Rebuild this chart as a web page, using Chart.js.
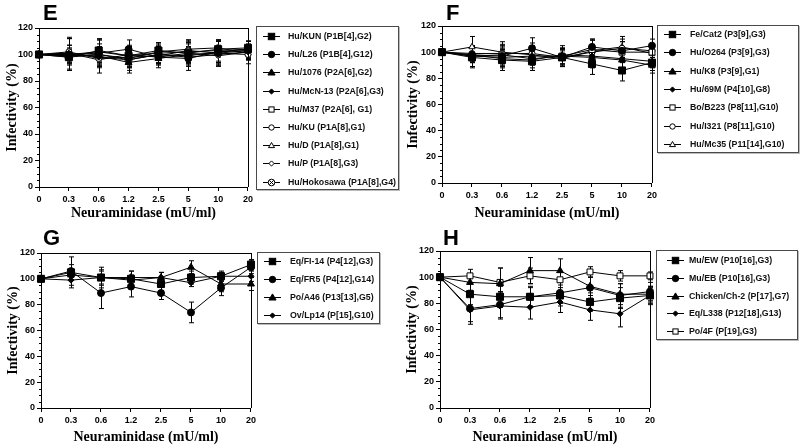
<!DOCTYPE html>
<html><head><meta charset="utf-8">
<script src="https://cdn.jsdelivr.net/npm/chart.js@4.4.0/dist/chart.umd.min.js"></script>
<style>
body{margin:0;width:800px;height:448px;background:#fff;position:relative;overflow:hidden;font-family:'Liberation Sans',Arial,sans-serif;}
canvas{position:absolute;}
.lbl{position:absolute;font:bold 22px 'Liberation Sans',Arial,sans-serif;line-height:1;color:#000;}
.leg{position:absolute;border:1.5px solid #4a4a4a;background:#fff;box-sizing:border-box;box-shadow:1px 1px 0 #bbb;}
.row{position:absolute;left:0;height:14px;white-space:nowrap;font:bold 8.8px 'Liberation Sans',Arial,sans-serif;color:#111;}
.row svg{position:absolute;top:0;}
.row span{position:absolute;top:1px;}
</style></head><body>
<script>
// ---------- shared axis ----------
const xLabels = ['0','0.3','0.6','1.2','2.5','5','10','20'];
const xTitle = 'Neuraminidase (mU/ml)';
const yTitle = 'Infectivity (%)';

// ---------- Panel E ----------
const eNames = ['Hu/KUN (P1B[4],G2)','Hu/L26 (P1B[4],G12)','Hu/1076 (P2A[6],G2)','Hu/McN-13 (P2A[6],G3)','Hu/M37 (P2A[6], G1)','Hu/KU (P1A[8],G1)','Hu/D (P1A[8],G1)','Hu/P (P1A[8],G3)','Hu/Hokosawa (P1A[8],G4)'];
const eMarks = ['sq','ci','tr','di','sqo','cio','tro','dio','cx'];
const eKUN      = [100, 98, 103, 99, 103, 101, 104, 105];
const eL26      = [100, 100, 101, 104, 98, 97, 102, 104];
const e1076     = [100, 99, 99, 94, 97, 100, 101, 103];
const eMcN13    = [100, 101, 98, 96, 100, 98, 100, 102];
const eM37      = [100, 100, 102, 99, 101, 102, 103, 104];
const eKU       = [100, 102, 97, 98, 99, 103, 101, 100];
const eD        = [100, 99, 100, 97, 102, 104, 105, 101];
const eP        = [100, 101, 96, 100, 98, 101, 99, 102];
const eHokosawa = [100, 98, 100, 96, 100, 99, 102, 103];
const eErrA = [0, 6, 8, 6, 6, 7, 6, 5];
const eErrB = [0, 12, 10, 7, 5, 9, 8, 6];
const eErrC = [0, 5, 6, 8, 7, 6, 9, 7];

// ---------- Panel F ----------
const fNames = ['Fe/Cat2 (P3[9],G3)','Hu/O264 (P3[9],G3)','Hu/K8 (P3[9],G1)','Hu/69M (P4[10],G8)','Bo/B223 (P8[11],G10)','Hu/I321 (P8[11],G10)','Hu/Mc35 (P11[14],G10)'];
const fMarks = ['sq','ci','tr','di','sqo','cio','tro'];
const fCat2  = [100, 96, 94, 93, 96, 91, 86, 92];
const fO264  = [100, 98, 97, 103, 96, 104, 101, 105];
const fK8    = [100, 97, 96, 97, 97, 96, 94, 90];
const f69M   = [100, 98, 95, 94, 98, 97, 95, 93];
const fB223  = [100, 97, 98, 95, 97, 102, 100, 100];
const fI321  = [100, 99, 99, 99, 96, 100, 103, 101];
const fMc35  = [100, 104, 100, 98, 95, 101, 104, 99];
const fErrA = [0, 8, 8, 7, 6, 8, 8, 6];
const fErrB = [0, 6, 6, 8, 7, 6, 7, 5];

// ---------- Panel G ----------
const gNames = ['Eq/FI-14 (P4[12],G3)','Eq/FR5 (P4[12],G14)','Po/A46 (P13[13],G5)','Ov/Lp14 (P[15],G10)'];
const gMarks = ['sq','ci','tr','di'];
const gFI14 = [100, 105, 101, 100, 96, 101, 102, 111];
const gFR5  = [100, 106, 89, 94, 89, 74, 93, 109];
const gA46  = [100, 103, 101, 101, 101, 109, 96, 96];
const gLp14 = [100, 99, 101, 99, 101, 97, 102, 102];
const gErrFI14 = [0, 12, 8, 6, 5, 5, 3, 4];
const gErrFR5  = [0, 5, 12, 8, 5, 8, 6, 5];
const gErrA46  = [0, 4, 6, 5, 4, 5, 6, 5];
const gErrLp14 = [0, 4, 5, 4, 4, 3, 4, 4];

// ---------- Panel H ----------
const hNames = ['Mu/EW (P10[16],G3)','Mu/EB (P10[16],G3)','Chicken/Ch-2 (P[17],G7)','Eq/L338 (P12[18],G13)','Po/4F (P[19],G3)'];
const hMarks = ['sq','ci','tr','di','sqo'];
const hEW   = [100, 87, 85, 85, 86, 81, 84, 86];
const hEB   = [100, 76, 79, 85, 88, 92, 86, 89];
const hCh2  = [100, 96, 95, 105, 105, 93, 87, 87];
const hL338 = [100, 75, 78, 77, 81, 75, 72, 86];
const hPo4F = [100, 101, 96, 101, 98, 104, 101, 101];
const hErrEW   = [0, 8, 8, 7, 8, 7, 8, 6];
const hErrEB   = [0, 10, 10, 8, 8, 8, 9, 7];
const hErrCh2  = [0, 6, 12, 10, 9, 7, 8, 6];
const hErrL338 = [0, 11, 10, 9, 8, 8, 10, 7];
const hErrPo4F = [0, 5, 11, 6, 6, 4, 4, 3];

// ---------- marker helpers ----------
function crossCircleImage(){
  const c=document.createElement('canvas'); c.width=9; c.height=9;
  const g=c.getContext('2d'); g.strokeStyle='#000'; g.lineWidth=1; g.fillStyle='#fff';
  g.beginPath(); g.arc(4.5,4.5,3.6,0,Math.PI*2); g.fill(); g.stroke();
  g.beginPath(); g.moveTo(2.2,2.2); g.lineTo(6.8,6.8); g.moveTo(6.8,2.2); g.lineTo(2.2,6.8); g.stroke();
  return c;
}
const cxImg = crossCircleImage();
function markStyle(m){
  const open = m.endsWith('o');
  const base = open ? m.slice(0,-1) : m;
  const fill = open ? '#fff' : '#000';
  const mapF = {sq:['rect',5],ci:['circle',3.5],tr:['triangle',4],di:['rectRot',3]};
  const mapO = {sq:['rect',4.2],ci:['circle',3],tr:['triangle',3.6],di:['rectRot',2.8]};
  if(m==='cx') return {pointStyle:cxImg,pointRadius:4.5,pointBackgroundColor:'#fff'};
  const mp = open ? mapO : mapF;
  return {pointStyle:mp[base][0],pointRadius:mp[base][1],pointBackgroundColor:fill};
}
function markSVG(m){
  const open=m.endsWith('o'); const b=open?m.slice(0,-1):m; const f=open?'#fff':'#000';
  let s='<line x1="0" y1="6.5" x2="17" y2="6.5" stroke="#000" stroke-width="1"/>';
  const cx=8.5, cy=6.5;
  if(m==='cx') s+='<circle cx="8.5" cy="6.5" r="3.3" fill="#fff" stroke="#000"/><path d="M6.3 4.3 L10.7 8.7 M10.7 4.3 L6.3 8.7" stroke="#000"/>';
  else if(b==='sq'){ const h=open?2.6:3.2; s+=`<rect x="${cx-h}" y="${cy-h}" width="${2*h}" height="${2*h}" fill="${f}" stroke="#000"/>`; }
  else if(b==='ci'){ s+=`<circle cx="${cx}" cy="${cy}" r="${open?2.7:3.2}" fill="${f}" stroke="#000"/>`; }
  else if(b==='tr'){ const r=open?3:3.6; s+=`<polygon points="${cx},${cy-r} ${cx+r},${cy+r*0.7} ${cx-r},${cy+r*0.7}" fill="${f}" stroke="#000"/>`; }
  else if(b==='di'){ const r=open?2.6:2.6; s+=`<polygon points="${cx},${cy-r} ${cx+r},${cy} ${cx},${cy+r} ${cx-r},${cy}" fill="${f}" stroke="#000"/>`; }
  return `<svg width="18" height="13">${s}</svg>`;
}

// ---------- plugins ----------
const errPlugin = {
  id:'errbars',
  beforeDatasetsDraw(chart){
    const ctx=chart.ctx, xs=chart.scales.x, ys=chart.scales.y;
    ctx.save(); ctx.strokeStyle='#000'; ctx.lineWidth=1;
    chart.data.datasets.forEach(ds=>{
      (ds.errs||[]).forEach((e,i)=>{
        if(!e) return;
        const px=Math.round(xs.getPixelForValue(i))+0.5, v=ds.data[i];
        const y1=ys.getPixelForValue(v+e), y2=ys.getPixelForValue(v-e);
        ctx.beginPath(); ctx.moveTo(px,y1); ctx.lineTo(px,y2);
        ctx.moveTo(px-2.5,y1); ctx.lineTo(px+2.5,y1);
        ctx.moveTo(px-2.5,y2); ctx.lineTo(px+2.5,y2);
        ctx.stroke();
      });
    });
    ctx.restore();
  }
};
const framePlugin = {
  id:'frame',
  afterDraw(chart){
    const a=chart.chartArea, ctx=chart.ctx, ys=chart.scales.y;
    ctx.save(); ctx.strokeStyle='#000'; ctx.lineWidth=1;
    ctx.beginPath();
    ctx.moveTo(a.left, Math.round(a.top)+0.5); ctx.lineTo(a.right+1, Math.round(a.top)+0.5);
    ctx.moveTo(Math.round(a.right)+0.5, a.top); ctx.lineTo(Math.round(a.right)+0.5, a.bottom);
    for(let v=0; v<=120; v+=5){
      if(v%20===0) continue;
      const py=Math.round(ys.getPixelForValue(v))+0.5;
      ctx.moveTo(a.left-2, py); ctx.lineTo(a.left, py);
    }
    ctx.stroke(); ctx.restore();
  }
};

// ---------- panel builder ----------
function buildPanel(p){
  const cv=document.createElement('canvas');
  cv.width=p.w; cv.height=p.h; cv.style.left=p.left+'px'; cv.style.top=p.top+'px';
  cv.style.width=p.w+'px'; cv.style.height=p.h+'px';
  document.body.appendChild(cv);
  const datasets=p.series.map((s,i)=>Object.assign({
    label:p.names[i], data:s, errs:p.errs[i],
    borderColor:'#000', borderWidth:1, pointBorderColor:'#000', pointBorderWidth:1,
    tension:0, fill:false
  }, markStyle(p.marks[i])));
  const tickFont={family:"'Liberation Sans', Arial, sans-serif", size:9, weight:'bold'};
  const titleFont={family:"'Liberation Serif','Times New Roman',serif", size:14, weight:'bold'};
  new Chart(cv,{
    type:'line',
    data:{labels:xLabels, datasets},
    options:{
      responsive:false, animation:false, devicePixelRatio:1,
      layout:{padding:{left:0, top:p.area.t, right:p.w-p.area.r, bottom:0}},
      plugins:{legend:{display:false}, tooltip:{enabled:false}},
      scales:{
        x:{type:'category', offset:false,
           grid:{display:true, drawOnChartArea:false, drawTicks:true, tickLength:4, color:'#000'},
           border:{display:true, color:'#000', width:1},
           ticks:{font:tickFont, color:'#000', padding:3, autoSkip:false, maxRotation:0, minRotation:0},
           title:{display:true, text:xTitle, font:titleFont, color:'#000', padding:{top:0,bottom:2}},
           afterFit(s){ s.height=p.h-p.area.b; }
        },
        y:{min:0, max:120,
           grid:{display:true, drawOnChartArea:false, drawTicks:true, tickLength:4, color:'#000'},
           border:{display:true, color:'#000', width:1},
           ticks:{stepSize:20, font:tickFont, color:'#000', padding:2},
           title:{display:true, text:yTitle, font:titleFont, color:'#000', padding:{top:p.ytPad,bottom:0}},
           afterFit(s){ s.width=p.area.l; }
        }
      }
    },
    plugins:[errPlugin, framePlugin]
  });
  const L=document.createElement('div'); L.className='lbl'; L.textContent=p.letter;
  L.style.left=p.lx+'px'; L.style.top=p.ly+'px'; document.body.appendChild(L);
  const g=document.createElement('div'); g.className='leg';
  Object.assign(g.style,{left:p.leg.x+'px',top:p.leg.y+'px',width:p.leg.w+'px',height:p.leg.h+'px'});
  p.names.forEach((n,i)=>{
    const r=document.createElement('div'); r.className='row';
    r.style.top=(p.leg.r0+i*p.leg.dy-7)+'px'; r.style.width='100%';
    r.innerHTML=`<span style="left:${p.leg.sx}px;top:0">${markSVG(p.marks[i])}</span><span style="left:${p.leg.tx}px">${n}</span>`;
    g.appendChild(r);
  });
  document.body.appendChild(g);
}

buildPanel({letter:'E', lx:43, ly:2, left:0, top:0, w:256, h:224, area:{l:39,t:28,r:248,b:187}, ytPad:4,
  names:eNames, marks:eMarks,
  series:[eKUN,eL26,e1076,eMcN13,eM37,eKU,eD,eP,eHokosawa],
  errs:[eErrA,eErrB,eErrC,eErrA,eErrB,eErrC,eErrA,eErrB,eErrC],
  leg:{x:256,y:26,w:143,h:164,r0:10,dy:18.2,sx:6,tx:31}});
buildPanel({letter:'F', lx:446, ly:2, left:400, top:0, w:260, h:224, area:{l:42,t:26,r:252,b:183}, ytPad:5,
  names:fNames, marks:fMarks,
  series:[fCat2,fO264,fK8,f69M,fB223,fI321,fMc35],
  errs:[fErrA,fErrB,fErrA,fErrB,fErrA,fErrB,fErrA],
  leg:{x:657,y:25,w:142,h:128,r0:9,dy:18.3,sx:6,tx:32}});
buildPanel({letter:'G', lx:43, ly:227, left:0, top:225, w:259, h:223, area:{l:41,t:28,r:251,b:183}, ytPad:5,
  names:gNames, marks:gMarks,
  series:[gFI14,gFR5,gA46,gLp14],
  errs:[gErrFI14,gErrFR5,gErrA46,gErrLp14],
  leg:{x:257,y:252,w:123,h:72,r0:9,dy:18,sx:6,tx:32}});
buildPanel({letter:'H', lx:443, ly:227, left:400, top:225, w:258, h:223, area:{l:40,t:26,r:650-400,b:183}, ytPad:4,
  names:hNames, marks:hMarks,
  series:[hEW,hEB,hCh2,hL338,hPo4F],
  errs:[hErrEW,hErrEB,hErrCh2,hErrL338,hErrPo4F],
  leg:{x:656,y:250,w:142,h:90,r0:10,dy:17.8,sx:10,tx:32}});
</script>
</body></html>
